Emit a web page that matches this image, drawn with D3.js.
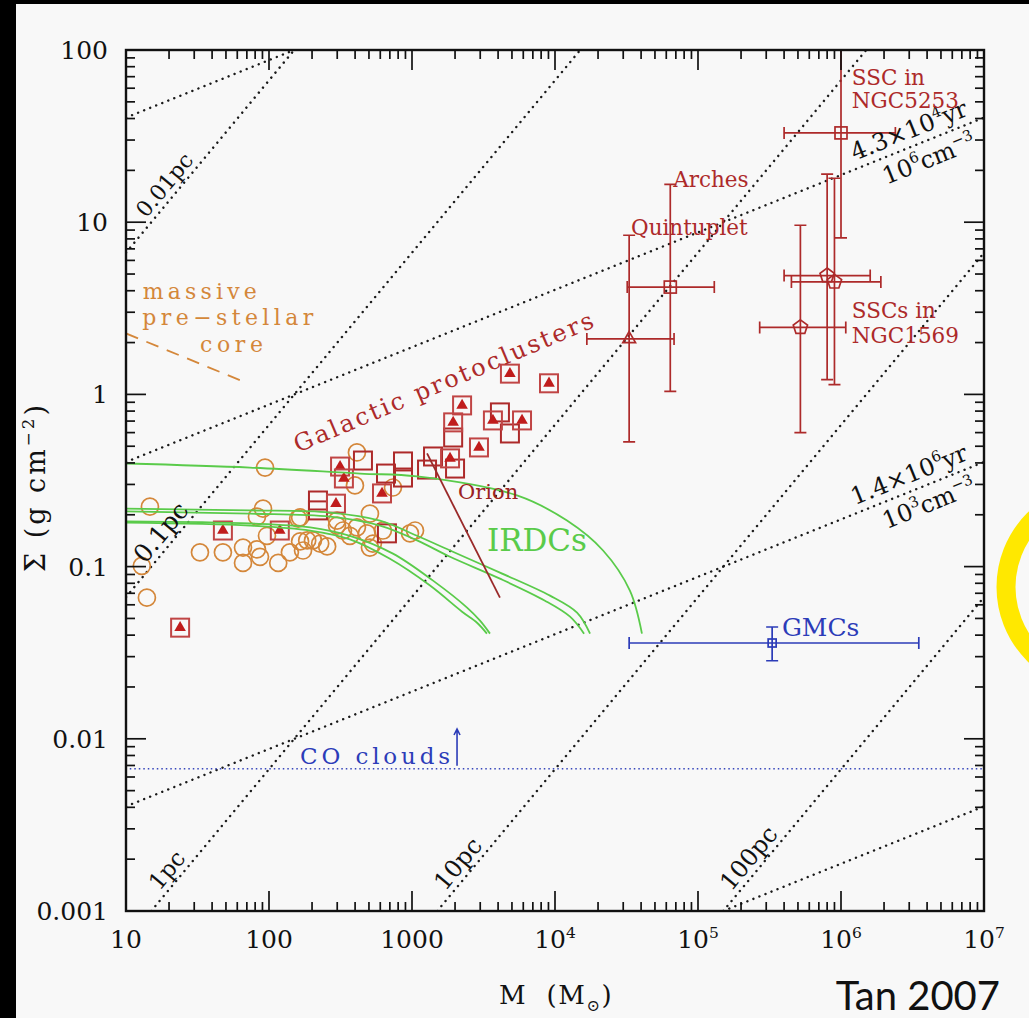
<!DOCTYPE html>
<html>
<head>
<meta charset="utf-8">
<script src="https://cdn.jsdelivr.net/npm/d3@7"></script>
<style>
  body { margin: 0; background: #000; }
  svg { display: block; }
</style>
</head>
<body>
<svg id="chart" width="1029" height="1018"></svg>
<script>
// ---- data (M in solar masses, Sigma in g cm^-2) ----

// galactic protoclusters: orange open circles
const circleM = [12.9, 14.0, 14.7, 93.8, 90.8, 82.4, 160, 32.9, 47.6, 65.8, 65.8, 82.4, 86.5, 116, 140, 165, 173, 203, 228, 255,
                 96.8, 299, 412, 399, 736, 508, 299, 329, 412, 484, 533, 626, 1050, 368, 508, 185, 165, 968];
const circleS = [0.101, 0.066, 0.223, 0.376, 0.217, 0.195, 0.190, 0.121, 0.121, 0.129, 0.105, 0.126, 0.114, 0.105, 0.121, 0.140, 0.124, 0.142, 0.136, 0.131,
                 0.151, 0.173, 0.460, 0.296, 0.288, 0.203, 0.185, 0.162, 0.169, 0.156, 0.136, 0.162, 0.162, 0.151, 0.129, 0.142, 0.193, 0.156];

// galactic protoclusters: squares with filled triangles
const triM = [4840, 9080, 2240, 1940, 3680, 5880, 2940, 1845, 314, 334, 617, 294, 119, 47.6, 23.9];
const triS = [1.32, 1.16, 0.863, 0.688, 0.706, 0.706, 0.492, 0.425, 0.381, 0.325, 0.266, 0.232, 0.162, 0.162, 0.0442];

// galactic protoclusters: open squares
const sqM = [4120, 4840, 1940, 1403, 1274, 2000, 865, 658, 865, 454, 220, 220, 668];
const sqS = [0.786, 0.593, 0.562, 0.436, 0.366, 0.371, 0.408, 0.347, 0.329, 0.413, 0.242, 0.212, 0.156];

// massive star clusters with error bars
const clusterM   = [6.4e4, 3.3e4, 1.0e6, 5.2e5, 8.0e5, 9.0e5];
const clusterMlo = [3.2e4, 1.67e4, 4.0e5, 2.7e5, 4.0e5, 4.5e5];
const clusterMhi = [1.3e5, 6.8e4, 2.4e6, 1.08e6, 1.6e6, 1.9e6];
const clusterS   = [4.2, 2.1, 33, 2.45, 4.9, 4.5];
const clusterSlo = [1.04, 0.53, 8.1, 0.60, 1.22, 1.14];
const clusterShi = [16.6, 8.4, 300, 9.6, 19, 18];
const clusterShape = ['square', 'triangle', 'square', 'pentagon', 'pentagon', 'pentagon'];

// GMCs
const gmcM = [3.3e5], gmcMlo = [3.3e4], gmcMhi = [3.5e6];
const gmcS = [0.036], gmcSlo = [0.0284], gmcShi = [0.0446];

// CO clouds threshold and arrow
const coSigma = 0.0067;
const coArrowM = 2065, coArrowTop = 0.0114;

// IRDC model curves, [M, Sigma]
const irdcA = [[10, 0.397], [73.6, 0.376], [433, 0.347], [1084, 0.334], [5420, 0.259], [12130, 0.185], [21680, 0.124], [33400, 0.0725], [40550, 0.0408]];
const irdcB1 = [[10, 0.217], [73.6, 0.212], [267, 0.206], [597, 0.185], [1084, 0.151], [1845, 0.124], [4120, 0.0923], [9230, 0.0678], [14260, 0.054], [17580, 0.0408]];
const irdcB2 = [[10, 0.209], [73.6, 0.203], [267, 0.195], [597, 0.173], [1084, 0.142], [1845, 0.114], [4120, 0.0851], [8510, 0.0634], [12740, 0.0512], [15970, 0.0408]];
const irdcC1 = [[10, 0.183], [73.6, 0.178], [194, 0.169], [368, 0.151], [736, 0.119], [1403, 0.0829], [2427, 0.0578], [2990, 0.0485], [3510, 0.0408]];
const irdcC2 = [[10, 0.180], [73.6, 0.173], [194, 0.162], [368, 0.144], [701, 0.111], [1337, 0.0776], [2240, 0.0547], [2850, 0.0472], [3340, 0.0408]];

// Orion track and massive pre-stellar core track
const orionTrack = [[1274, 0.454], [4120, 0.066]];
const coreTrack = [[10, 2.26], [62.7, 1.21]];

// constant radius lines (end points) and their labels
const radiusLabels = ['0.01pc', '0.1pc', '1pc', '10pc', '100pc'];
const radiusM = [[10, 150], [10, 15000], [15, 1.5e6], [1500, 1e7], [1.5e5, 1e7]];
const radiusS = [[6.65, 100], [0.0665, 100], [0.001, 100], [0.001, 6.65], [0.001, 0.0665]];
const radiusLabelM = [22, 21, 23, 2500, 2.7e5];
const radiusLabelSize = [22, 25, 23, 24, 24];

// constant density lines (end points)
const densM = [[10, 150], [10, 1e7], [10, 1e7], [1.5e5, 1e7]];
const densS = [[40.5, 100], [0.405, 40.5], [0.00405, 0.405], [0.001, 0.00405]];

// axis ticks
const xMajor = [10, 100, 1000, 1e4, 1e5, 1e6, 1e7];
const xLabelBase = ['10', '100', '1000', '10', '10', '10', '10'];
const xLabelSup = ['', '', '', '4', '5', '6', '7'];
const yMajor = [0.001, 0.01, 0.1, 1, 10, 100];
const yLabels = ['0.001', '0.01', '0.1', '1', '10', '100'];

// ---- drawing ----
const red = '#ad2a2a', orange = '#d4873a', green = '#5acb4a', blue = '#2c3cb8';
const serif = '"DejaVu Serif", serif';

const svg = d3.select('#chart');
svg.append('rect').attr('x', 16).attr('y', 4).attr('width', 1013).attr('height', 1014).attr('fill', '#f8f8f8');

const x = d3.scaleLog().domain([10, 1e7]).range([126, 984]);
const y = d3.scaleLog().domain([0.001, 100]).range([911, 50]);

svg.append('defs').append('clipPath').attr('id', 'plotclip')
   .append('rect').attr('x', 126).attr('y', 50).attr('width', 858).attr('height', 861);

const plot = svg.append('g').attr('clip-path', 'url(#plotclip)');
const line = d3.line().x(d => x(d[0])).y(d => y(d[1]));

// rich text helper: parts = [[string, 'n'|'sup'|'sub'], ...]
function rich(t, parts, size) {
  let shift = 0;
  parts.forEach(([str, kind]) => {
    const target = kind === 'sup' ? -0.42 * size : kind === 'sub' ? 0.28 * size : 0;
    const ts = t.append('tspan').text(str).attr('dy', target - shift);
    if (kind !== 'n') ts.attr('font-size', size * 0.62);
    shift = target;
  });
  return t;
}

// dotted radius and density lines
const dotted = sel => sel.attr('fill', 'none').attr('stroke', '#1a1a1a').attr('stroke-width', 2.4)
  .attr('stroke-dasharray', '0.1 6.4').attr('stroke-linecap', 'round');
radiusM.forEach((m, i) => {
  plot.append('path').attr('d', line([[m[0], radiusS[i][0]], [m[1], radiusS[i][1]]])).call(dotted);
});
densM.forEach((m, i) => {
  plot.append('path').attr('d', line([[m[0], densS[i][0]], [m[1], densS[i][1]]])).call(dotted);
});

// CO clouds line
plot.append('line').attr('x1', x(10)).attr('x2', x(1e7)).attr('y1', y(coSigma)).attr('y2', y(coSigma))
    .attr('stroke', blue).attr('stroke-width', 1.7).attr('stroke-dasharray', '0.1 4.4').attr('stroke-linecap', 'round');
plot.append('path')
    .attr('d', `M${x(coArrowM)},${y(coSigma) - 3}V${y(coArrowTop)}M${x(coArrowM) - 3},${y(coArrowTop) + 6}L${x(coArrowM)},${y(coArrowTop)}L${x(coArrowM) + 3},${y(coArrowTop) + 6}`)
    .attr('fill', 'none').attr('stroke', blue).attr('stroke-width', 1.6);

// pre-stellar core dashed track
plot.append('path').attr('d', line(coreTrack)).attr('fill', 'none').attr('stroke', orange)
    .attr('stroke-width', 1.8).attr('stroke-dasharray', '13 9');

// orange circles
plot.selectAll('circle.pc').data(circleM.map((m, i) => [m, circleS[i]])).enter()
    .append('circle').attr('class', 'pc')
    .attr('cx', d => x(d[0])).attr('cy', d => y(d[1])).attr('r', 8.5)
    .attr('fill', 'none').attr('stroke', orange).attr('stroke-width', 1.7);

// open squares
plot.selectAll('rect.sq').data(sqM.map((m, i) => [m, sqS[i]])).enter()
    .append('rect').attr('class', 'sq')
    .attr('x', d => x(d[0]) - 9).attr('y', d => y(d[1]) - 9).attr('width', 18).attr('height', 18)
    .attr('fill', 'none').attr('stroke', red).attr('stroke-width', 2);

// squares with triangles
const tri = plot.selectAll('g.tri').data(triM.map((m, i) => [m, triS[i]])).enter()
    .append('g').attr('class', 'tri')
    .attr('transform', d => `translate(${x(d[0])},${y(d[1])})`);
tri.append('rect').attr('x', -9).attr('y', -9).attr('width', 18).attr('height', 18)
   .attr('fill', 'none').attr('stroke', '#c04545').attr('stroke-width', 2);
tri.append('path').attr('d', d3.symbol(d3.symbolTriangle, 58)()).attr('fill', '#c01c1c');

// IRDC curves
const curve = d3.line().x(d => x(d[0])).y(d => y(d[1])).curve(d3.curveCatmullRom);
[irdcA, irdcB1, irdcB2, irdcC1, irdcC2].forEach(c => {
  plot.append('path').attr('d', curve(c)).attr('fill', 'none').attr('stroke', green).attr('stroke-width', 1.8);
});

// Orion track
plot.append('path').attr('d', line(orionTrack)).attr('fill', 'none').attr('stroke', '#9a2a2a').attr('stroke-width', 1.8);

// error bars
function errorBar(g, M, Mlo, Mhi, S, Slo, Shi, color, cap) {
  const cx = x(M), cy = y(S);
  const p = `M${x(Mlo)},${cy}H${x(Mhi)}` +
            `M${x(Mlo)},${cy - cap}V${cy + cap}M${x(Mhi)},${cy - cap}V${cy + cap}` +
            `M${cx},${y(Slo)}V${y(Shi)}` +
            `M${cx - cap},${y(Slo)}H${cx + cap}M${cx - cap},${y(Shi)}H${cx + cap}`;
  g.append('path').attr('d', p).attr('fill', 'none').attr('stroke', color).attr('stroke-width', 1.7);
}
function pentagon(r) {
  return d3.range(5).map(k => {
    const a = -Math.PI / 2 + k * 2 * Math.PI / 5;
    return [r * Math.cos(a), r * Math.sin(a)];
  });
}
clusterM.forEach((m, i) => {
  errorBar(plot, m, clusterMlo[i], clusterMhi[i], clusterS[i], clusterSlo[i], clusterShi[i], red, 6);
  const g = plot.append('g').attr('transform', `translate(${x(m)},${y(clusterS[i])})`);
  const shape = clusterShape[i];
  if (shape === 'square') {
    g.append('rect').attr('x', -6).attr('y', -6).attr('width', 12).attr('height', 12)
     .attr('fill', 'none').attr('stroke', red).attr('stroke-width', 1.7);
  } else if (shape === 'triangle') {
    g.append('path').attr('d', d3.symbol(d3.symbolTriangle, 70)()).attr('fill', 'none').attr('stroke', red).attr('stroke-width', 1.7);
  } else {
    g.append('path').attr('d', 'M' + pentagon(7.5).join('L') + 'Z').attr('fill', 'none').attr('stroke', red).attr('stroke-width', 1.7);
  }
});
errorBar(plot, gmcM[0], gmcMlo[0], gmcMhi[0], gmcS[0], gmcSlo[0], gmcShi[0], blue, 6);
plot.append('rect').attr('x', x(gmcM[0]) - 4).attr('y', y(gmcS[0]) - 4).attr('width', 8).attr('height', 8)
    .attr('fill', 'none').attr('stroke', blue).attr('stroke-width', 1.7);

// ---- frame and ticks ----
const ax = svg.append('g').attr('stroke', '#111');
ax.append('rect').attr('x', 126).attr('y', 50).attr('width', 858).attr('height', 861)
  .attr('fill', 'none').attr('stroke-width', 2.4);
const isMajor = v => Math.abs(Math.log10(v) - Math.round(Math.log10(v))) < 1e-6;
x.ticks().forEach(t => {
  const len = isMajor(t) ? 20 : 9, px = x(t);
  ax.append('line').attr('x1', px).attr('x2', px).attr('y1', 911).attr('y2', 911 - len).attr('stroke-width', 1.7);
  ax.append('line').attr('x1', px).attr('x2', px).attr('y1', 50).attr('y2', 50 + len).attr('stroke-width', 1.7);
});
y.ticks().forEach(t => {
  const len = isMajor(t) ? 20 : 9, py = y(t);
  ax.append('line').attr('y1', py).attr('y2', py).attr('x1', 126).attr('x2', 126 + len).attr('stroke-width', 1.7);
  ax.append('line').attr('y1', py).attr('y2', py).attr('x1', 984).attr('x2', 984 - len).attr('stroke-width', 1.7);
});

// tick labels
xMajor.forEach((v, i) => {
  const t = svg.append('text').attr('x', x(v)).attr('y', 948).attr('text-anchor', 'middle')
    .attr('font-family', serif).attr('font-size', 25).attr('fill', '#111');
  rich(t, xLabelSup[i] ? [[xLabelBase[i], 'n'], [xLabelSup[i], 'sup']] : [[xLabelBase[i], 'n']], 25);
});
yMajor.forEach((v, i) => {
  svg.append('text').attr('x', 108).attr('y', y(v) + 9).attr('text-anchor', 'end')
    .attr('font-family', serif).attr('font-size', 25).attr('fill', '#111').text(yLabels[i]);
});

// axis titles
rich(svg.append('text').attr('x', 556).attr('y', 1004).attr('text-anchor', 'middle')
  .attr('font-family', serif).attr('font-size', 26).attr('fill', '#111').attr('letter-spacing', 1.5),
  [['M\u00a0\u00a0(M', 'n'], ['\u2299', 'sub'], [')', 'n']], 26);
rich(svg.append('text').attr('transform', 'translate(45,487) rotate(-90)').attr('text-anchor', 'middle')
  .attr('font-family', serif).attr('font-size', 27).attr('fill', '#111').attr('letter-spacing', 3),
  [['\u03a3\u00a0(g\u00a0cm', 'n'], ['\u22122', 'sup'], [')', 'n']], 27);

// line labels
const angleOf = (m, s) => Math.atan2(y(s[1]) - y(s[0]), x(m[1]) - x(m[0])) * 180 / Math.PI;
const onLine = (m, s, mm) => {
  const f = Math.log(mm / m[0]) / Math.log(m[1] / m[0]);
  return s[0] * Math.pow(s[1] / s[0], f);
};
radiusLabels.forEach((lab, i) => {
  const mm = radiusLabelM[i], ss = onLine(radiusM[i], radiusS[i], mm);
  svg.append('text').attr('transform', `translate(${x(mm)},${y(ss)}) rotate(${angleOf(radiusM[i], radiusS[i])})`)
    .attr('y', -6).attr('text-anchor', 'middle').attr('font-family', serif).attr('font-size', radiusLabelSize[i])
    .attr('fill', '#111').text(lab);
});
const densLabelM = 3.1e6;
[[1, ['4.3\u00d710', '4', 'yr'], ['10', '6', 'cm', '\u22123']], [2, ['1.4\u00d710', '6', 'yr'], ['10', '3', 'cm', '\u22123']]]
  .forEach(([i, a, b]) => {
    const ss = onLine(densM[i], densS[i], densLabelM);
    const g = svg.append('g').attr('transform', `translate(${x(densLabelM)},${y(ss)}) rotate(${angleOf(densM[i], densS[i])})`)
      .attr('font-family', serif).attr('fill', '#111');
    rich(g.append('text').attr('x', 4).attr('y', -8).attr('text-anchor', 'middle').attr('font-size', 24),
      [[a[0], 'n'], [a[1], 'sup'], [a[2], 'n']], 24);
    rich(g.append('text').attr('x', 12).attr('y', 26).attr('text-anchor', 'middle').attr('font-size', 24),
      [[b[0], 'n'], [b[1], 'sup'], [b[2], 'n'], [b[3], 'sup']], 24);
  });

// annotations anchored in data space
const notes = [
  {t: 'Arches', M: 6.7e4, S: 16, size: 21.5, c: red},
  {t: 'Quintuplet', M: 3.4e4, S: 8.4, size: 21.5, c: red},
  {t: 'SSC in', M: 1.19e6, S: 62.6, size: 21.5, c: red},
  {t: 'NGC5253', M: 1.19e6, S: 46, size: 21.5, c: red},
  {t: 'SSCs in', M: 1.19e6, S: 2.77, size: 21.5, c: red},
  {t: 'NGC1569', M: 1.19e6, S: 2.0, size: 21.5, c: red},
  {t: 'Orion', M: 2100, S: 0.248, size: 21, c: '#9a2222'},
  {t: 'IRDCs', M: 3340, S: 0.124, size: 31, c: green},
  {t: 'GMCs', M: 3.86e5, S: 0.0397, size: 25, c: blue},
  {t: 'CO clouds', M: 165, S: 0.00716, size: 23, c: blue, len: 150},
  {t: 'massive', M: 13.1, S: 3.58, size: 22, c: orange, len: 114},
  {t: 'pre\u2212stellar', M: 13.0, S: 2.52, size: 22, c: orange, len: 171},
  {t: 'core', M: 32.9, S: 1.77, size: 22, c: orange, len: 63}
];
notes.forEach(n => {
  const t = svg.append('text').attr('x', x(n.M)).attr('y', y(n.S)).attr('font-family', serif)
    .attr('font-size', n.size).attr('fill', n.c).text(n.t);
  if (n.len) t.attr('textLength', n.len).attr('lengthAdjust', 'spacing');
});
svg.append('text').attr('transform', `translate(${x(1650)},${y(1.19)}) rotate(-23)`).attr('y', 9)
  .attr('text-anchor', 'middle').attr('font-family', serif).attr('font-size', 24).attr('fill', red)
  .attr('textLength', 323).attr('lengthAdjust', 'spacing').text('Galactic protoclusters');

// slide decorations
svg.append('text').attr('x', 1000).attr('y', 1010).attr('text-anchor', 'end')
  .attr('font-family', 'Lato, "Open Sans", sans-serif').attr('font-size', 40).attr('fill', '#111').text('Tan 2007');
svg.append('circle').attr('cx', 1101).attr('cy', 587).attr('r', 95)
  .attr('fill', 'none').attr('stroke', '#ffe800').attr('stroke-width', 19);
</script>
</body>
</html>
